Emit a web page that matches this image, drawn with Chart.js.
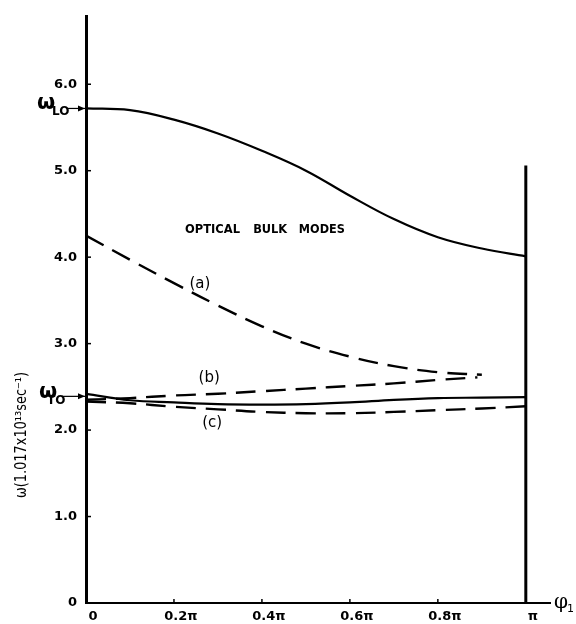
<!DOCTYPE html>
<html>
<head>
<meta charset="utf-8">
<script src="https://cdn.jsdelivr.net/npm/chart.js@4.4.1/dist/chart.umd.min.js"></script>
<style>
  html, body { margin: 0; padding: 0; background: #fff; }
  #wrap { width: 576px; height: 624px; }
</style>
</head>
<body>
<div id="wrap"><canvas id="bulkModes"></canvas></div>
<script>
// phi_1 in units of pi
const phi = [0, 0.1, 0.2, 0.3, 0.4, 0.5, 0.6, 0.7, 0.8, 0.9, 1.0];
const phiA = [0, 0.1, 0.2, 0.3, 0.4, 0.5, 0.6, 0.7, 0.8, 0.9];
const phiB = [0, 0.1, 0.2, 0.3, 0.4, 0.5, 0.6, 0.7, 0.8, 0.89];

// omega in units of 1.017x10^13 sec^-1
const upperLO = [5.72, 5.70, 5.59, 5.43, 5.23, 5.00, 4.71, 4.44, 4.23, 4.10, 4.01];
const lowerTO = [2.42, 2.345, 2.32, 2.30, 2.295, 2.30, 2.32, 2.35, 2.37, 2.375, 2.38];
const modeA = [4.25, 3.97, 3.70, 3.44, 3.20, 3.00, 2.85, 2.74, 2.67, 2.64];
const modeB = [2.35, 2.37, 2.40, 2.42, 2.45, 2.48, 2.51, 2.54, 2.58, 2.61];
const modeC = [2.33, 2.31, 2.27, 2.24, 2.21, 2.195, 2.195, 2.21, 2.23, 2.25, 2.275];

const wLO = 5.72, wTO = 2.39;
const xTicks = [0, 0.2, 0.4, 0.6, 0.8, 1.0];
const xTickLabels = ['0', '0.2\u03c0', '0.4\u03c0', '0.6\u03c0', '0.8\u03c0', '\u03c0'];
const yTicks = [0, 1, 2, 3, 4, 5, 6];
const yTickLabels = ['0', '1.0', '2.0', '3.0', '4.0', '5.0', '6.0'];
const wallTop = 5.06;

const pts = (xs, ys) => xs.map((p, i) => ({ x: p, y: ys[i] }));
const dash = [20, 10];

const solid = (data) => ({ data, borderColor: '#000', borderWidth: 2.2, pointRadius: 0, tension: 0.4, fill: false });
const dashed = (data) => Object.assign(solid(data), { borderDash: dash, borderWidth: 2.4 });

const overlay = {
  id: 'overlay',
  afterDatasetsDraw(chart) {
    const { ctx, scales: { x, y } } = chart;
    const at = (p, w) => [x.getPixelForValue(p), y.getPixelForValue(w)];
    ctx.save();
    ctx.strokeStyle = '#000';
    ctx.fillStyle = '#000';

    // inward tick marks
    ctx.lineWidth = 1.5;
    yTicks.slice(1).forEach(v => {
      const py = y.getPixelForValue(v);
      ctx.beginPath(); ctx.moveTo(x.left, py); ctx.lineTo(x.left + 5, py); ctx.stroke();
    });
    xTicks.slice(1, -1).forEach(v => {
      const px = x.getPixelForValue(v);
      ctx.beginPath(); ctx.moveTo(px, y.bottom); ctx.lineTo(px, y.bottom - 4); ctx.stroke();
    });

    // arrows for omega_LO and omega_TO
    const arrow = (w, x0) => {
      const py = y.getPixelForValue(w);
      ctx.lineWidth = 1.2;
      ctx.beginPath(); ctx.moveTo(x0, py); ctx.lineTo(x.left - 1, py); ctx.stroke();
      ctx.beginPath();
      ctx.moveTo(x.left - 1, py); ctx.lineTo(x.left - 8, py - 3); ctx.lineTo(x.left - 8, py + 3);
      ctx.closePath(); ctx.fill();
    };
    arrow(wLO, 67);
    arrow(wTO, 62);

    ctx.textBaseline = 'middle';
    ctx.textAlign = 'left';
    ctx.font = 'bold 21px "DejaVu Sans"';
    let [, py] = at(0, wLO);
    ctx.fillText('\u03c9', 37, py - 5);
    ctx.font = 'bold 12px "DejaVu Sans"';
    ctx.fillText('LO', 52, py + 3);
    [, py] = at(0, wTO);
    ctx.font = 'bold 21px "DejaVu Sans"';
    ctx.fillText('\u03c9', 39, py - 4);
    ctx.font = 'bold 12px "DejaVu Sans"';
    ctx.fillText('TO', 47, py + 5);

    // curve labels
    ctx.textAlign = 'center';
    ctx.font = '15px "DejaVu Sans"';
    ctx.fillText('(a)', ...at(0.259, 3.69));
    ctx.fillText('(b)', ...at(0.28, 2.60));
    ctx.fillText('(c)', ...at(0.287, 2.08));

    ctx.textAlign = 'left';
    ctx.font = 'bold 12px "DejaVu Sans"';
    [['OPTICAL', 0.225, 55], ['BULK', 0.38, 34], ['MODES', 0.484, 46]].forEach(([t, p, wd]) => {
      const [px, qy] = at(p, 4.32);
      ctx.fillText(t, px, qy, wd);
    });

    // phi_1 axis label
    ctx.font = '20px "DejaVu Serif"';
    ctx.fillText('\u03c6', 554, y.bottom);
    ctx.font = '11px "DejaVu Sans"';
    ctx.fillText('1', 567, y.bottom + 6);

    // y axis title
    ctx.save();
    ctx.translate(22, 435);
    ctx.rotate(-Math.PI / 2);
    ctx.textAlign = 'center';
    ctx.font = '15px "DejaVu Sans"';
    ctx.fillText('\u03c9(1.017x10\u00b9\u00b3sec\u207b\u00b9)', 0, 0, 126);
    ctx.restore();

    ctx.restore();
  }
};

const config = {
  type: 'line',
  data: {
    datasets: [
      solid(pts(phi, upperLO)),
      solid(pts(phi, lowerTO)),
      dashed(pts(phiA, modeA)),
      dashed(pts(phiB, modeB)),
      dashed(pts(phi, modeC)),
      { data: [{ x: 1, y: 0 }, { x: 1, y: wallTop }], borderColor: '#000', borderWidth: 3, pointRadius: 0 }
    ]
  },
  options: {
    responsive: true,
    maintainAspectRatio: false,
    animation: false,
    layout: { padding: { top: 13, right: 26, left: 0, bottom: 0 } },
    plugins: { legend: { display: false }, tooltip: { enabled: false } },
    scales: {
      x: {
        type: 'linear',
        min: 0,
        max: 1.055,
        afterFit: s => { s.height = 21; },
        afterBuildTicks: s => { s.ticks = xTicks.map(v => ({ value: v })); },
        grid: { display: false, drawTicks: false },
        border: { display: true, color: '#000', width: 2 },
        ticks: {
          padding: 6,
          labelOffset: 7,
          color: '#000',
          font: { family: 'DejaVu Sans', size: 13, weight: 'bold' },
          callback: (v) => xTickLabels[xTicks.indexOf(v)]
        }
      },
      y: {
        type: 'linear',
        min: 0,
        max: 6.78,
        afterFit: s => { s.width = 86; },
        afterBuildTicks: s => { s.ticks = yTicks.map(v => ({ value: v })); },
        grid: { display: false, drawTicks: false },
        border: { display: true, color: '#000', width: 3 },
        ticks: {
          padding: 9,
          color: '#000',
          font: { family: 'DejaVu Sans', size: 13, weight: 'bold' },
          callback: (v) => yTickLabels[yTicks.indexOf(v)]
        }
      }
    }
  },
  plugins: [overlay]
};

window.onload = function() {
  const ctx = document.getElementById('bulkModes').getContext('2d');
  new Chart(ctx, config);
};
</script>
</body>
</html>
